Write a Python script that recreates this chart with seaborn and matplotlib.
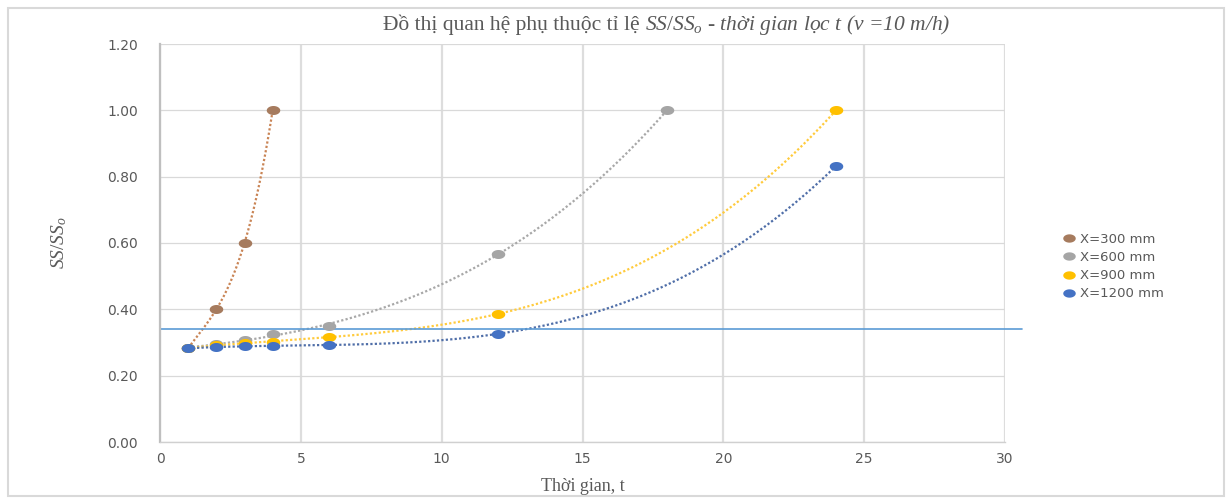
import numpy as np
import pandas as pd
import matplotlib
matplotlib.use("Agg")
import matplotlib.pyplot as plt
from matplotlib.lines import Line2D
from matplotlib.patches import Rectangle
import seaborn as sns

# values
t_300 = [1, 2, 3, 4]
ratio_300 = [0.283, 0.40, 0.60, 1.00]

t_600 = [1, 2, 3, 4, 6, 12, 18]
ratio_600 = [0.283, 0.295, 0.307, 0.326, 0.350, 0.567, 1.00]

t_900 = [1, 2, 3, 4, 6, 12, 24]
ratio_900 = [0.283, 0.292, 0.298, 0.302, 0.317, 0.386, 1.00]

t_1200 = [1, 2, 3, 4, 6, 12, 24]
ratio_1200 = [0.283, 0.286, 0.288, 0.290, 0.293, 0.326, 0.832]

series_labels = ["X=300 mm", "X=600 mm", "X=900 mm", "X=1200 mm"]
limit_ratio = 0.34

x_ticks = [0, 5, 10, 15, 20, 25, 30]
y_ticks = [0.0, 0.2, 0.4, 0.6, 0.8, 1.0, 1.2]

marker_colors = ["#A67B5E", "#A5A5A5", "#FFC000", "#4472C4"]
trend_colors = ["#C98455", "#A8A8A8", "#FFCB3D", "#4F6EA8"]

# long table for seaborn
frames = []
for lab, t, r in zip(series_labels, [t_300, t_600, t_900, t_1200],
                     [ratio_300, ratio_600, ratio_900, ratio_1200]):
    frames.append(pd.DataFrame({"t": t, "ratio": r, "series": lab}))
df = pd.concat(frames, ignore_index=True)

sns.set_theme(style="white")
plt.rcParams["font.family"] = ["DejaVu Sans"]
plt.rcParams["mathtext.fontset"] = "custom"
plt.rcParams["mathtext.rm"] = "Liberation Serif"
plt.rcParams["mathtext.it"] = "Liberation Serif:italic"

# the reference is stretched sideways, so the dots are flat ellipses
ang = np.linspace(0, 2 * np.pi, 40)
ellipse = list(zip(1.5 * np.cos(ang), np.sin(ang)))

fig = plt.figure(figsize=(12.3, 5), dpi=100)
ax = fig.add_axes([160 / 1230, 58 / 500, 845 / 1230, 398 / 500])

# dotted trendlines (polynomial, like Excel)
for (lab, grp), tc in zip(df.groupby("series", sort=False), trend_colors):
    coef = np.polyfit(grp["t"], grp["ratio"], min(3, len(grp) - 1))
    tt = np.linspace(grp["t"].min(), grp["t"].max(), 200)
    ax.plot(tt, np.polyval(coef, tt), color=tc, lw=1.6,
            linestyle=(0, (1, 1)), zorder=2)

for (lab, grp), mc in zip(df.groupby("series", sort=False), marker_colors):
    sns.scatterplot(data=grp, x="t", y="ratio", color=mc, marker=ellipse,
                    s=95, linewidth=0, ax=ax, zorder=3, legend=False)

ax.axhline(limit_ratio, xmin=0, xmax=(1022 - 160) / 845, color="#5B9BD5",
           lw=1.2, clip_on=False, zorder=2)

ax.set_xlim(0, 30)
ax.set_ylim(0, 1.2)
ax.set_xticks(x_ticks)
ax.set_yticks(y_ticks)
ax.set_yticklabels([f"{v:.2f}" for v in y_ticks])
ax.tick_params(axis="both", length=0, labelsize=10, labelcolor="#595959")
ax.tick_params(axis="y", pad=16)
ax.tick_params(axis="x", pad=7)

ax.grid(axis="y", color="#D9D9D9", lw=0.9)
ax.grid(axis="x", color="#DDDDDD", lw=1.6)
ax.set_axisbelow(True)
for side in ["top", "right"]:
    ax.spines[side].set_visible(False)
ax.spines["left"].set_color("#BFBFBF")
ax.spines["left"].set_linewidth(1.6)
ax.spines["bottom"].set_color("#D0D0D0")
ax.spines["bottom"].set_linewidth(1.0)

ax.set_xlabel("Thời gian, t", family="Liberation Serif", fontsize=13,
              color="#595959", labelpad=9)
ax.set_ylabel("$SS/SS_o$", fontsize=14, color="#595959")
ax.yaxis.set_label_coords(-0.108, 0.5)

# title: plain part + italic part
fig.text(645 / 1230, 1 - 25 / 500, "Đồ thị quan hệ phụ thuộc tỉ lệ ",
         family="Liberation Serif", fontsize=15.5, color="#595959",
         ha="right", va="center")
fig.text(645 / 1230, 1 - 25 / 500, "$SS/SS_o$ - thời gian lọc t (v =10 m/h)",
         family="Liberation Serif", style="italic", fontsize=15.5,
         color="#595959", ha="left", va="center")

handles = [Line2D([], [], linestyle="none", marker=ellipse, markersize=9,
                  markerfacecolor=c, markeredgewidth=0) for c in marker_colors]
fig.legend(handles, series_labels, loc="center left",
           bbox_to_anchor=(1062 / 1230, 1 - 266.5 / 500), frameon=False,
           fontsize=9.5, labelcolor="#595959", handlelength=1.0,
           handletextpad=0.4, labelspacing=0.4, borderpad=0, borderaxespad=0)

# chart area border
fig.patches.append(Rectangle((8 / 1230, 4 / 500), 1216 / 1230, 488 / 500,
                             transform=fig.transFigure, fill=False,
                             edgecolor="#D9D9D9", lw=1.5))

fig.savefig("out.png", dpi=100)
